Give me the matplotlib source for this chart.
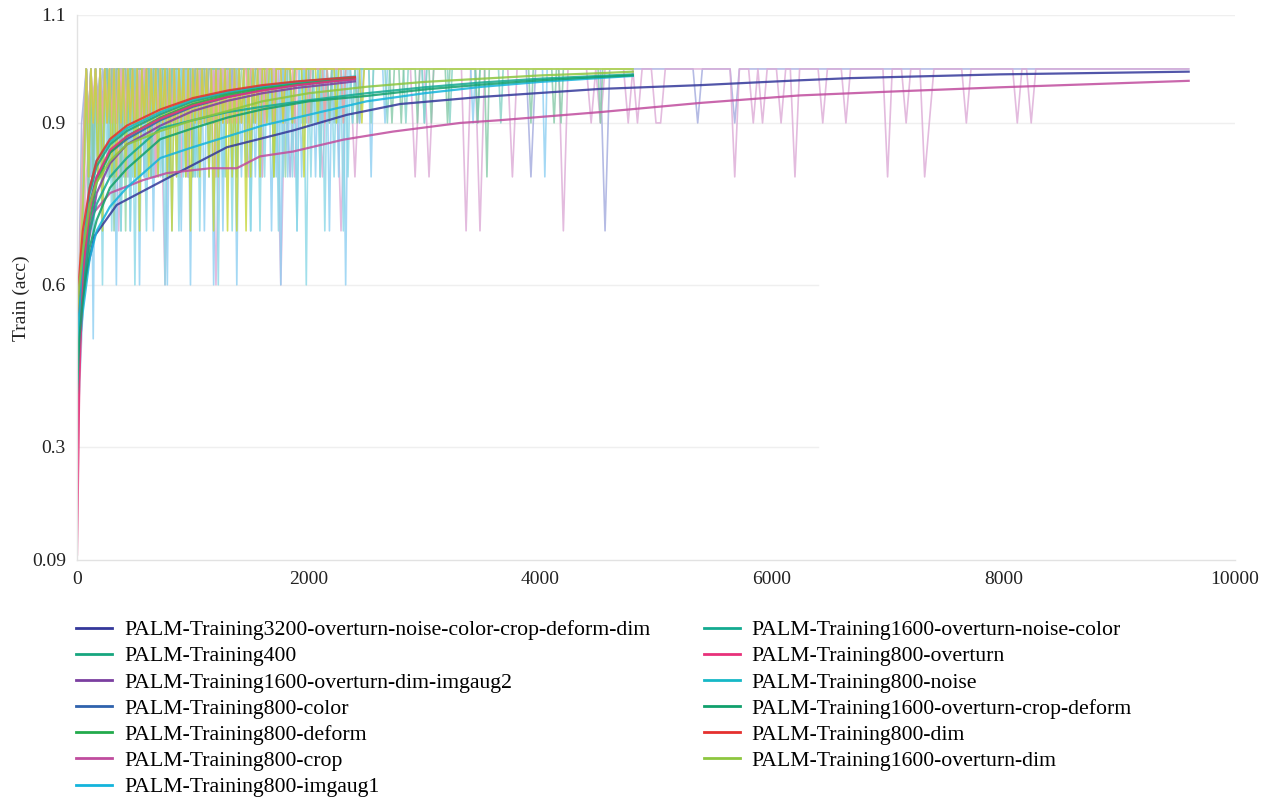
import numpy as np
import matplotlib
matplotlib.use("Agg")
import matplotlib.pyplot as plt

plt.rcParams['font.family'] = ['Liberation Serif', 'DejaVu Serif']

# ---------------- data ----------------
names = [
    "PALM-Training3200-overturn-noise-color-crop-deform-dim",
    "PALM-Training400",
    "PALM-Training1600-overturn-dim-imgaug2",
    "PALM-Training800-color",
    "PALM-Training800-deform",
    "PALM-Training800-crop",
    "PALM-Training800-imgaug1",
    "PALM-Training1600-overturn-noise-color",
    "PALM-Training800-overturn",
    "PALM-Training800-noise",
    "PALM-Training1600-overturn-crop-deform",
    "PALM-Training800-dim",
    "PALM-Training1600-overturn-dim",
]
colors = ["#34389a", "#16a67f", "#7b3fa0", "#2f62ad", "#22aa4c", "#c04c9e",
          "#14b4dc", "#13aa90", "#e8317a", "#16b8c6", "#10a06c", "#e5302e", "#8dc63f"]
noise_colors = ["#a3aade", "#86d2b8", "#bba0d4", "#95b4da", "#92d6a6", "#dcaad6",
                "#8ecff2", "#86d2c6", "#f2a6c2", "#8ad8e6", "#86caa8", "#f2a3a0", "#c6d63a"]
ends = [9600, 2400, 2400, 2400, 2400, 9600, 4800, 4800, 2400, 2400, 4800, 2400, 4800]

# smoothed curves (knot steps / values)
fast_steps = [0, 20, 50, 110, 170, 285, 430, 720, 1000, 1300, 1600, 1900, 2200, 2400]
mid_steps = [0, 20, 50, 110, 170, 285, 430, 720, 1000, 1300, 1600, 2000, 2500, 3000, 3500, 4000, 4500, 4800]
navy_steps = [0, 20, 60, 150, 343, 803, 1295, 1866, 2330, 2790, 3480, 4516, 5380, 6243, 6675, 7970, 9600]
crop_steps = [0, 20, 40, 141, 285, 570, 777, 1150, 1380, 1580, 1866, 2300, 2730, 3310, 3650, 4516, 5380, 6243, 7020, 7970, 9600]

smooth_3200 = [0.45, 0.52, 0.60, 0.69, 0.748, 0.80, 0.855, 0.886, 0.915, 0.935, 0.948, 0.963, 0.970, 0.979, 0.983, 0.990, 0.995]
smooth_400 = [0.40, 0.55, 0.65, 0.77, 0.82, 0.86, 0.885, 0.916, 0.94, 0.955, 0.966, 0.974, 0.979, 0.983]
smooth_imgaug2 = [0.45, 0.50, 0.58, 0.70, 0.77, 0.825, 0.86, 0.895, 0.922, 0.941, 0.955, 0.965, 0.972, 0.977]
smooth_color = [0.50, 0.56, 0.64, 0.75, 0.80, 0.845, 0.87, 0.905, 0.93, 0.948, 0.961, 0.970, 0.977, 0.981]
smooth_deform = [0.30, 0.50, 0.60, 0.72, 0.79, 0.845, 0.875, 0.91, 0.935, 0.952, 0.964, 0.973, 0.979, 0.983]
smooth_crop = [0.30, 0.45, 0.60, 0.733, 0.77, 0.794, 0.807, 0.816, 0.816, 0.838, 0.847, 0.869, 0.884, 0.90, 0.905, 0.92, 0.937, 0.951, 0.958, 0.966, 0.978]
smooth_imgaug1 = [0.40, 0.48, 0.55, 0.65, 0.70, 0.745, 0.78, 0.835, 0.855, 0.875, 0.895, 0.915, 0.94, 0.955, 0.967, 0.976, 0.983, 0.987]
smooth_noise_color = [0.45, 0.52, 0.60, 0.70, 0.75, 0.80, 0.835, 0.89, 0.905, 0.92, 0.93, 0.942, 0.955, 0.966, 0.975, 0.982, 0.987, 0.990]
smooth_overturn = [0.10, 0.42, 0.62, 0.74, 0.80, 0.85, 0.875, 0.908, 0.932, 0.948, 0.960, 0.970, 0.977, 0.981]
smooth_noise = [0.42, 0.55, 0.66, 0.78, 0.83, 0.865, 0.89, 0.92, 0.943, 0.958, 0.968, 0.976, 0.982, 0.986]
smooth_crop_deform = [0.40, 0.50, 0.57, 0.67, 0.72, 0.78, 0.815, 0.87, 0.89, 0.91, 0.925, 0.94, 0.95, 0.962, 0.971, 0.979, 0.985, 0.988]
smooth_dim = [0.55, 0.62, 0.70, 0.78, 0.83, 0.87, 0.895, 0.925, 0.946, 0.96, 0.97, 0.977, 0.982, 0.985]
smooth_overturn_dim = [0.55, 0.60, 0.66, 0.75, 0.79, 0.83, 0.86, 0.885, 0.905, 0.922, 0.94, 0.955, 0.967, 0.976, 0.982, 0.988, 0.992, 0.995]

smooth_steps = [navy_steps, fast_steps, fast_steps, fast_steps, fast_steps, crop_steps,
                mid_steps, mid_steps, fast_steps, fast_steps, mid_steps, fast_steps, mid_steps]
smooth_vals = [smooth_3200, smooth_400, smooth_imgaug2, smooth_color, smooth_deform, smooth_crop,
               smooth_imgaug1, smooth_noise_color, smooth_overturn, smooth_noise, smooth_crop_deform,
               smooth_dim, smooth_overturn_dim]

# raw per-step accuracy, evenly logged: 'X' = 1.0, digit d = d/10
raw_3200 = ("49X8X9X9XX" "8XX9XX9XXX" "9XXX8XXXX9" "XXXX9XXXXX" "9XXXXX8XXX" "XXX9XXXXXX"
            "X9XXXXXXXX" "XXXXXXXXXX" "XXXXXXXXXX" "XXXXXXXX8X" "XXXXXXXXXX" "XXXX7XXXXX"
            "XXXXXXXXXX" "XXXX9XXXXX" "XX9XXXXXXX" + "X" * 91)
raw_400 = ("4678X9X8X9" "X7X9XX8XX9" "XX8XX9XXX9" "XXX8XXX9XX" "XX9XXXX8XX" "XXX9XXXXX9"
           "XXXXXX9XXX" "XXXXX8XXXX" "XXXX9XXXXX" "XXX9XXXXXX" "XXXXX9XXXXXXXXX9XXXXX")
raw_imgaug2 = ("4578X8X9X8" "X9XX8XX9XX" "X8XXX9XXX8" "XXX9XXXXX8" "XXXXX9XXXX" "XX9XXXXXXX"
               "8XXXXXXX9X" "XXXXXXXXX9" + "X" * 10 + "9" + "X" * 30)
raw_color = ("4679X9X8X9" "XX9X8XX9XX" "9XX8XX9XXX" "9XXX8XXX9X" "XXX9XXXX8X" "XXXX9XXXXX"
             "9XXXXX9XXX" "XXX8XXXXXX" "9XXXXXXX9X" "XXXXXXXXX9" "XXXXXXXXXXX9XXXXXXXXX")
raw_deform = ("3578X9X7X9" "X8X9XX8X9X" "X7XX9X8XX9" "XX8XX9XXX8" "XX9XXX9XXX" "8XXX9XXXX9"
              "XXXX8XXXXX" "9XXXXX9XXX" "XXX9XXXXXX" "8XXXXXXX9X" "XXXXXXX9XXXXXXXXXXXXX")
raw_crop = ("3689X8X9X7" "X8XX9XX8X6" "XXXX8XXXXX" "6XXXXXX8XX" "XXXX6XX8XX" "XXX8XXX7XX"
            "8XXXXXXXXX" "XXX8XX8XXX" "XXXX7XX7XX" "XXXX8XXXXX" "XXXXX7XXXX" "X9X9XXXXX9"
            "X9XXX99XXX" "XXXXXXXXXX" "XX8XXX9X9X" "XX9XX8XXXX" "X9XXXX9XXX" "XXXXX8XXX9"
            "XXX89XXXXX" "XX9XXXXXXX" "XXX9XX9XXX" + "X" * 31)
raw_imgaug1 = ("34567" "8X5X8" "X7X9X8X6X9" "X8X7X8X6X8" "X9X7X8X8X6" "X7X8X7X9X6" "X8X9X7X8X6"
               "X8X7X9X8X6" "X8X9X7X8X9" "8X9X7X8X6X" "X8X9X7X8XX" "9XX8XX9XX7XXX8XX6XXX"
               "XX9XXXX8XXXXX9XXXXXX" + "X" * 10 + "9" + "X" * 20 + "9" + "X" * 30 + "8" + "X" * 38)
raw_noise_color = ("4679X8X9X8" "X9XX8X9XX7" "X9XX8XX9XX" "8XX9XXX8XX" "9XXX8XXX9X" "XX8XXXX9XX"
                   "XX9XXXX8XX" "XXX9XXXXX8" "XXXXX9XXXX" "X9XXXXXX9X" "XXXXX8XXXX" "XX9XXXXXX9"
                   "XXXXXXX9XX" "XXXX9XXXXX" "XX9XXXXXXX" "9XXXXXXXXX" "X9XXXXXXXX"
                   "XXX9XXXXXXXXX9" + "X" * 57)
raw_overturn = ("1467X8X9X9" "X8X9XX9X8X" "9XX9X8XX9X" "X9XX8XX9XX" "X9XXX8XX9X" "XX9XXX9XXX"
                "8XXX9XXXX9" "XXXX9XXXXX" "8XXXXX9XXX" "XXX9XXXXXX" "X9XXXXXXX9XXXXXXXXXXX")
raw_noise = ("3579X8X7X9" "X6X8X7X9X7" "X8X7X6X8X9" "7X8X9X8X6X" "8X9X7X8X9X" "X8X7X9X8XX"
             "X6X8X9X7X8" "X9X8X7X9X7" "X8X9X8X7X8" "X9X8X7X9X6" "X8X9X8X7X9X8X9X7X8X9X")
raw_crop_deform = ("3568X7X8X9" "X8XX9X7XX8" "XX9XX8XXX9" "XX8XXX9XXX" "8XXXX9XXXX" "8XXXXX9XXX"
                   "XXX9XXXXX8" "XXXXXX9XXX" "XXXXX8XXXX" "XXX9XXXXXX" "X9XXXXXXX9" "XXXXXXXXXX"
                   "X9XXXXXXXX" "XXXXXX9XXX" "9XXXXXX9XX" "XXX9XXXXXX" "9XXXXXXXXX" "XXX9XXX8XX"
                   "XXXXXXXXXX" "XXXXXX9XXX" "XXXXXX9XX9" + "X" * 16 + "9" + "X" * 14)
raw_dim = ("5689X9X9X9" + "X9" * 30 + "X9XX9XX9XX" "X9XXX9XXX9" "XXXX9XXXXX" "9XXXXXX9XX"
           "XXXXX9XXXXX")
raw_overturn_dim = ("5678X8X9X8" "X7X9X8X8X9" "X8X9X8X7X9" "X8X9X8X9X8" "X7X8X9X8X7" "X9X8X9X8X7"
                    "X8X9X7X8X7" "X9X7X8X9X8" "XX9XX8XXX9" "XXX9XXXX8X"
                    "XXXX9XXXXXXX9XXXXXXXXXX9" + "X" * 117)

raw_series = [raw_3200, raw_400, raw_imgaug2, raw_color, raw_deform, raw_crop, raw_imgaug1,
              raw_noise_color, raw_overturn, raw_noise, raw_crop_deform, raw_dim, raw_overturn_dim]

y_ticks = [0.09, 0.3, 0.6, 0.9, 1.1]
y_tick_labels = ["0.09", "0.3", "0.6", "0.9", "1.1"]
x_ticks = [0, 2000, 4000, 6000, 8000, 10000]
x_tick_labels = ["0", "2000", "4000", "6000", "8000", "10000"]


def decode(s):
    return np.array([1.0 if c == "X" else int(c) / 10.0 for c in s])


# ---------------- figure ----------------
fig = plt.figure(figsize=(12.7, 8.0), dpi=100)
ax = fig.add_axes([77 / 1270, 1 - 560 / 800, (1235 - 77) / 1270, (560 - 15) / 800])

# grid lines
ax.axhline(1.1, color="#efefef", lw=1.0, zorder=0)
ax.axhline(0.9, color="#efefef", lw=1.0, zorder=0)
ax.axhline(0.6, xmax=0.64, color="#efefef", lw=1.0, zorder=0)
ax.axhline(0.3, xmax=0.64, color="#efefef", lw=1.0, zorder=0)

# raw noisy lines
for raw, end, col in zip(raw_series, ends, noise_colors):
    vals = decode(raw)
    xs = np.linspace(0, end, len(vals))
    ax.plot(xs, vals, color=col, lw=1.2, alpha=0.8, zorder=1)

# smoothed lines
for st, sv, col, name in zip(smooth_steps, smooth_vals, colors, names):
    ax.plot(st, sv, color=col, lw=1.6, alpha=0.85, zorder=2, label=name)

ax.set_xlim(0, 10000)
ax.set_ylim(0.09, 1.1)
ax.set_yticks(y_ticks)
ax.set_yticklabels(y_tick_labels)
ax.set_xticks(x_ticks)
ax.set_xticklabels(x_tick_labels)
ax.tick_params(axis="both", length=0, labelsize=14, colors="#222222")
ax.tick_params(axis="y", pad=8)
ax.tick_params(axis="x", pad=8)
for side in ["top", "right"]:
    ax.spines[side].set_visible(False)
for side in ["left", "bottom"]:
    ax.spines[side].set_color("#e2e2e2")
    ax.spines[side].set_linewidth(1.0)

ax.set_ylabel("Train (acc)", fontsize=14, color="#222222")
ax.yaxis.set_label_coords(-0.041, 0.48)

leg_handles = [plt.Line2D([0], [0], color=c, lw=2) for c in colors]
fig.legend(leg_handles, names, loc="upper left", bbox_to_anchor=(76 / 1270, 1 - 620 / 800),
           ncol=2, frameon=False, fontsize=15.7, handlelength=1.65, handletextpad=0.55,
           columnspacing=2.45, labelspacing=0.27, borderpad=0, borderaxespad=0)

fig.savefig("out.png", dpi=100)
